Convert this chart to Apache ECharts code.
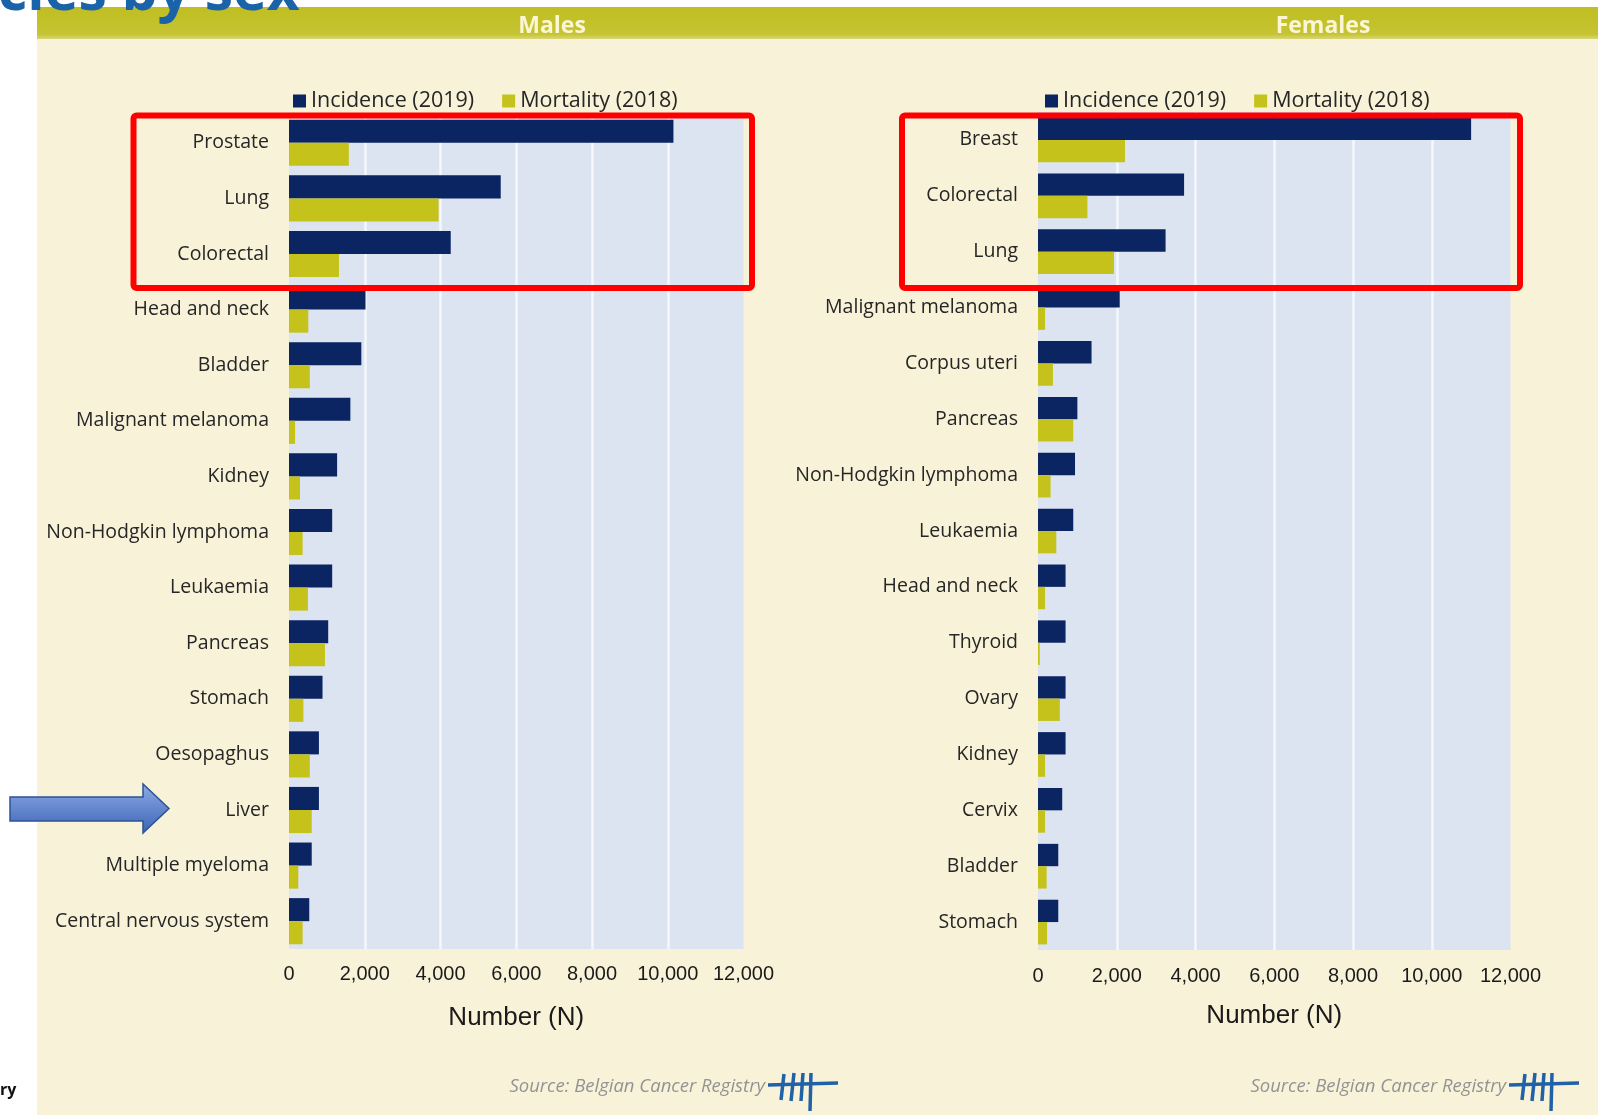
<!DOCTYPE html>
<html>
<head>
<meta charset="utf-8">
<script src="https://cdn.jsdelivr.net/npm/echarts@6/dist/echarts.min.js"></script>
<style>
html, body { margin: 0; padding: 0; background: #fff; }
#chart { width: 1603px; height: 1115px; }
</style>
</head>
<body>
<div id="chart"></div>
<script>
// values
var maleCancers = ['Prostate', 'Lung', 'Colorectal', 'Head and neck', 'Bladder', 'Malignant melanoma',
    'Kidney', 'Non-Hodgkin lymphoma', 'Leukaemia', 'Pancreas', 'Stomach', 'Oesopaghus', 'Liver',
    'Multiple myeloma', 'Central nervous system'];
var maleIncidence = [10150, 5590, 4270, 2020, 1910, 1620, 1270, 1140, 1140, 1035, 885, 790, 790, 600, 535];
var maleMortality = [1580, 3950, 1320, 510, 550, 160, 290, 360, 500, 950, 380, 550, 600, 245, 360];

var femaleCancers = ['Breast', 'Colorectal', 'Lung', 'Malignant melanoma', 'Corpus uteri', 'Pancreas',
    'Non-Hodgkin lymphoma', 'Leukaemia', 'Head and neck', 'Thyroid', 'Ovary', 'Kidney', 'Cervix',
    'Bladder', 'Stomach'];
var femaleIncidence = [11000, 3710, 3240, 2075, 1360, 1000, 940, 895, 700, 700, 700, 700, 615, 515, 515];
var femaleMortality = [2210, 1255, 1930, 180, 380, 895, 320, 465, 180, 45, 555, 180, 180, 220, 230];

var seriesNames = ['Incidence (2019)', 'Mortality (2018)'];
var panelTitles = ['Males', 'Females'];
var axisTitle = 'Number (N)';
var sourceText = 'Source: Belgian Cancer Registry';

var NAVY = '#0b2462';
var OLIVE = '#c5c31b';

var chartDom = document.getElementById('chart');
var myChart = echarts.init(chartDom);

function fmt(v) {
    return v.toLocaleString('en-US');
}

function xAxisFor(gridIndex, margin, gap) {
    return {
        type: 'value',
        gridIndex: gridIndex,
        min: 0,
        max: 12000,
        interval: 2000,
        name: axisTitle,
        nameLocation: 'middle',
        nameGap: gap,
        nameTextStyle: { fontFamily: 'Liberation Sans', fontSize: 26, color: '#1a1a1a' },
        axisLine: { show: false },
        axisTick: { show: false },
        axisLabel: { margin: margin, fontFamily: 'Liberation Sans', fontSize: 20, color: '#1a1a1a', formatter: fmt },
        splitLine: { show: true, showMinLine: false, showMaxLine: false, lineStyle: { color: '#f5f7fc', width: 2.5 } }
    };
}

function yAxisFor(gridIndex, cats) {
    return {
        type: 'category',
        gridIndex: gridIndex,
        data: cats,
        inverse: true,
        axisLine: { show: false },
        axisTick: { show: false },
        splitLine: { show: false },
        axisLabel: { margin: 20, fontFamily: 'Open Sans', fontSize: 19.5, color: '#262626' }
    };
}

function barSeries(name, idx, data, color, gapPct) {
    return {
        name: name,
        type: 'bar',
        xAxisIndex: idx,
        yAxisIndex: idx,
        data: data,
        barGap: 0,
        barCategoryGap: gapPct,
        itemStyle: { color: color },
        emphasis: { disabled: true }
    };
}

function legendAt(left) {
    return {
        left: left,
        top: 85,
        itemWidth: 13,
        itemHeight: 13,
        itemGap: 28,
        icon: 'rect',
        data: seriesNames,
        textStyle: { fontFamily: 'Open Sans', fontSize: 21.5, color: '#262626' }
    };
}

function logo(x, y) {
    var c = '#2061a8';
    return {
        type: 'group', x: x, y: y, z: 100,
        children: [
            { type: 'line', shape: { x1: 0, y1: 0, x2: 70, y2: -2 }, style: { stroke: c, lineWidth: 3.5 } },
            { type: 'line', shape: { x1: 16, y1: -11, x2: 13, y2: 15 }, style: { stroke: c, lineWidth: 3.5 } },
            { type: 'line', shape: { x1: 26, y1: -12, x2: 23, y2: 16 }, style: { stroke: c, lineWidth: 3.5 } },
            { type: 'line', shape: { x1: 35, y1: -12, x2: 33, y2: 16 }, style: { stroke: c, lineWidth: 3.5 } },
            { type: 'line', shape: { x1: 43, y1: -12, x2: 42, y2: 26 }, style: { stroke: c, lineWidth: 3.5 } }
        ]
    };
}

var graphics = [
    // cream page panel and olive header band
    { type: 'rect', z: -10, shape: { x: 37, y: 7, width: 1561, height: 1108 }, style: { fill: '#f8f3d8' } },
    { type: 'rect', z: -9, shape: { x: 37, y: 7, width: 1561, height: 32 },
      style: { fill: new echarts.graphic.LinearGradient(0, 0, 0, 1, [
          { offset: 0, color: '#bfbe22' }, { offset: 0.85, color: '#c6c431' }, { offset: 1, color: '#d8d67a' }]) } },
    { type: 'text', z: 50, x: 552, y: 26, style: { text: panelTitles[0], fill: '#fbf6d6',
      font: 'bold 23px "Open Sans"', align: 'center', verticalAlign: 'middle' } },
    { type: 'text', z: 50, x: 1323, y: 26, style: { text: panelTitles[1], fill: '#fbf6d6',
      font: 'bold 23px "Open Sans"', align: 'center', verticalAlign: 'middle' } },
    // slide title, cut at the top
    { type: 'text', z: 60, x: -2, y: 22, style: { text: 'cies by sex', fill: '#1b63a8',
      font: 'bold 57px "Open Sans"', align: 'left', verticalAlign: 'bottom' } },
    { type: 'text', z: 60, x: 0, y: 1090, style: { text: 'ry', fill: '#111',
      font: 'bold 16px "Open Sans"', align: 'left', verticalAlign: 'middle' } },
    // red highlight boxes
    { type: 'rect', z: 100, shape: { x: 133.5, y: 115.5, width: 618.5, height: 172.5, r: 3 },
      style: { fill: 'none', stroke: '#ff0000', lineWidth: 6 } },
    { type: 'rect', z: 100, shape: { x: 902, y: 115.5, width: 618, height: 172.5, r: 3 },
      style: { fill: 'none', stroke: '#ff0000', lineWidth: 6 } },
    // blue arrow pointing at Liver
    { type: 'polygon', z: 100,
      shape: { points: [[10, 797], [143, 797], [143, 784], [169, 808.5], [143, 833], [143, 821], [10, 821]] },
      style: { fill: new echarts.graphic.LinearGradient(0, 0, 0, 1, [
          { offset: 0, color: '#8eabe6' }, { offset: 1, color: '#3c63b4' }]),
        stroke: '#2d5394', lineWidth: 1.5 } },
    // sources
    { type: 'text', z: 50, x: 765, y: 1087, style: { text: sourceText, fill: '#939393',
      font: 'italic 18.5px "Open Sans"', align: 'right', verticalAlign: 'middle' } },
    logo(768, 1085),
    { type: 'text', z: 50, x: 1506, y: 1087, style: { text: sourceText, fill: '#939393',
      font: 'italic 18.5px "Open Sans"', align: 'right', verticalAlign: 'middle' } },
    logo(1509, 1085)
];

var option = {
    animation: false,
    legend: [legendAt(288), legendAt(1040)],
    grid: [
        { left: 289, top: 115, width: 454.5, height: 834, show: true, backgroundColor: '#dce4f2', borderWidth: 0 },
        { left: 1038, top: 112, width: 472.5, height: 838, show: true, backgroundColor: '#dce4f2', borderWidth: 0 }
    ],
    xAxis: [xAxisFor(0, 15, 56), xAxisFor(1, 16, 53)],
    yAxis: [yAxisFor(0, maleCancers), yAxisFor(1, femaleCancers)],
    series: [
        barSeries(seriesNames[0], 0, maleIncidence, NAVY, '17%'),
        barSeries(seriesNames[1], 0, maleMortality, OLIVE, '17%'),
        barSeries(seriesNames[0], 1, femaleIncidence, NAVY, '20%'),
        barSeries(seriesNames[1], 1, femaleMortality, OLIVE, '20%')
    ],
    graphic: graphics
};

option && myChart.setOption(option);
</script>
</body>
</html>
